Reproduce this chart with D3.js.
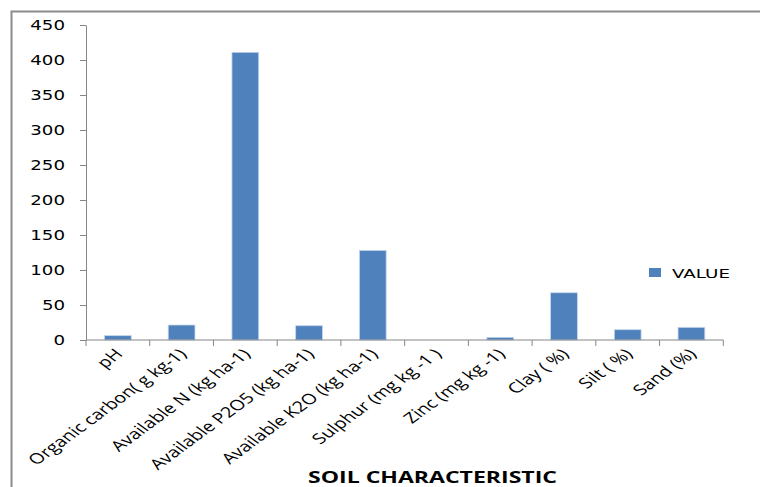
<!DOCTYPE html>
<html><head><meta charset="utf-8">
<script src="https://cdn.jsdelivr.net/npm/d3@7"></script>
<style>body{margin:0;background:#fff}svg{display:block}</style>
</head><body>
<script>
const categories = ["pH","Organic carbon( g kg-1)","Available N (kg ha-1)","Available P2O5 (kg ha-1)","Available K2O (kg ha-1)","Sulphur (mg kg -1 )","Zinc (mg kg -1)","Clay ( %)","Silt ( %)","Sand (%)"];
const values = [6.2, 21.4, 411, 20.4, 128, 0, 3.8, 67.5, 14.7, 18.1];
const yTicks = [0,50,100,150,200,250,300,350,400,450];
const seriesName = "VALUE";
const xTitle = "SOIL CHARACTERISTIC";

const W = 760, H = 487;
const svg = d3.select("body").append("svg").attr("width", W).attr("height", H);

// outer chart border (cropped at right/bottom)
svg.append("path").attr("d", `M11.5,${H+2}V11.5H${W+2}`).attr("fill","none").attr("stroke","#8c8c8c").attr("stroke-width",2);

const x = d3.scaleBand().domain(categories).range([86, 723.3]).paddingInner(0.58).paddingOuter(0.29);
const y = d3.scaleLinear().domain([0, 450]).range([340, 25]);

const axisColor = "#868686";
const sx = 1.3;

// bars
svg.append("g").selectAll("rect").data(values).join("rect")
  .attr("x", (d,i) => x(categories[i]))
  .attr("y", d => y(d))
  .attr("width", x.bandwidth())
  .attr("height", d => y(0) - y(d))
  .attr("fill", "#4f81bd")
  .attr("stroke", "#c6d6ea").attr("stroke-width", 0.8);

// y axis
const yAxis = svg.append("g").attr("transform","translate(86,0)")
  .call(d3.axisLeft(y).tickValues(yTicks).tickSize(6).tickSizeOuter(0));
yAxis.select(".domain").attr("stroke", axisColor);
yAxis.selectAll(".tick line").attr("stroke", axisColor);
yAxis.selectAll(".tick text").attr("fill","#000").attr("x", -21/sx).attr("transform", `scale(${sx},1)`)
  .style("font-family","'DejaVu Sans', Verdana, sans-serif").style("font-size","14px");

// x axis: ticks at band boundaries
const xg = svg.append("g").attr("transform","translate(0,340)");
xg.append("line").attr("x1",86).attr("x2",723.3).attr("stroke",axisColor);
const step = x.step();
xg.selectAll("line.tk").data(d3.range(categories.length + 1)).join("line").attr("class","tk")
  .attr("x1", i => 86 + i*step).attr("x2", i => 86 + i*step)
  .attr("y1", 0).attr("y2", 6).attr("stroke", axisColor);

// x tick labels rotated (horizontally stretched like the reference)
xg.selectAll("text.lbl").data(categories).join("text").attr("class","lbl")
  .attr("transform", d => `translate(${x(d) + x.bandwidth()/2 + 6},${15}) scale(1.36,1) rotate(-45)`)
  .attr("text-anchor","end")
  .style("font-family","'Open Sans', sans-serif").style("font-size","14.6px").attr("fill","#000")
  .text(d => d);

// x title
svg.append("text").attr("x", 308).attr("y", 483)
  .attr("textLength", 249).attr("lengthAdjust","spacingAndGlyphs")
  .style("font-family","'Open Sans', sans-serif").style("font-weight","bold").style("font-size","15.5px")
  .text(xTitle);

// legend
svg.append("rect").attr("x",649).attr("y",268).attr("width",12).attr("height",9).attr("fill","#4f81bd");
svg.append("text").attr("x",672).attr("y",277.5)
  .attr("textLength", 58).attr("lengthAdjust","spacingAndGlyphs")
  .style("font-family","'DejaVu Sans', Verdana, sans-serif").style("font-size","13px")
  .text(seriesName);
</script>
</body></html>
